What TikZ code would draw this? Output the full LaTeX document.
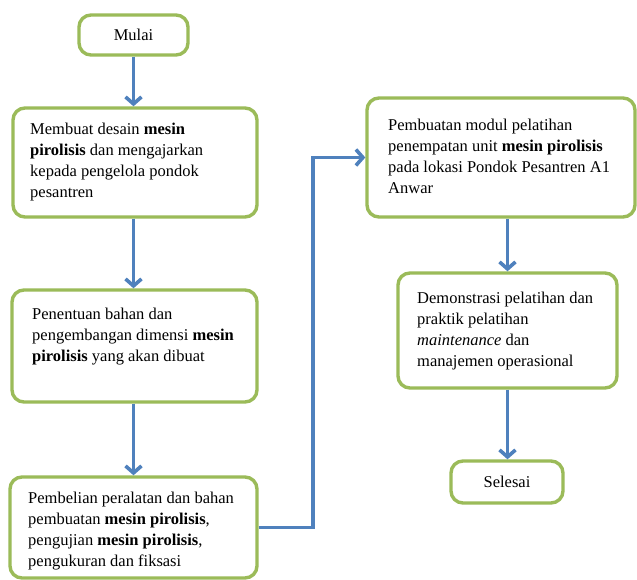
\documentclass[tikz,border=0pt]{standalone}
\usepackage{fontspec}
\setmainfont{Liberation Serif}
\usetikzlibrary{arrows.meta}
\definecolor{boxgreen}{HTML}{9BBB59}
\definecolor{arrblue}{HTML}{4F81BD}
\tikzset{
  box/.style={draw=boxgreen, line width=3.4pt, rounded corners=12pt, fill=white, inner sep=0pt},
  txt/.style={anchor=north west, inner sep=0pt, align=left, font=\fontsize{16.5}{21}\selectfont},
  ctxt/.style={inner sep=0pt, font=\fontsize{16.5}{21}\selectfont},
  arr/.style={draw=arrblue, line width=3.6pt, -{Straight Barb[length=7pt,width=16pt]}},
}
\begin{document}
\begin{tikzpicture}[x=1pt,y=-1pt]
\useasboundingbox (0,0) rectangle (637,580);
\fill[white] (0,0) rectangle (637,580);
% boxes
\node[box, minimum width=109pt, minimum height=40pt] (mulai) at (133.5,35) {};
\node[box, minimum width=244pt, minimum height=109pt] (b1) at (135,162.5) {};
\node[box, minimum width=245pt, minimum height=112pt] (b2) at (134.5,346) {};
\node[box, minimum width=247pt, minimum height=101pt] (b3) at (133.5,527.5) {};
\node[box, minimum width=268pt, minimum height=119pt] (b4) at (501,157.5) {};
\node[box, minimum width=219pt, minimum height=115pt] (b5) at (507.5,330.5) {};
\node[box, minimum width=112pt, minimum height=42pt] (selesai) at (507,482) {};
% texts
\node[ctxt] (tmulai) at (133.5,35) {Mulai};
\node[ctxt] (tselesai) at (507,482) {Selesai};
\node[txt] (t1) at (30,123) {Membuat desain \textbf{mesin}\\\textbf{pirolisis} dan mengajarkan\\kepada pengelola pondok\\pesantren};
\node[txt] (t2) at (32,308) {Penentuan bahan dan\\pengembangan dimensi \textbf{mesin}\\\textbf{pirolisis} yang akan dibuat};
\node[txt] (t3) at (28,492) {Pembelian peralatan dan bahan\\pembuatan \textbf{mesin pirolisis},\\pengujian \textbf{mesin pirolisis},\\pengukuran dan fiksasi};
\node[txt] (t4) at (388,119) {Pembuatan modul pelatihan\\penempatan unit \textbf{mesin pirolisis}\\pada lokasi Pondok Pesantren A1\\Anwar};
\node[txt] (t5) at (417,292) {Demonstrasi pelatihan dan\\praktik pelatihan\\\textit{maintenance} dan\\manajemen operasional};
% connectors
\coordinate (bend) at (313,0);
\draw[arr] (mulai.south) -- (mulai.south |- b1.north);
\draw[arr] (mulai.south |- b1.south) -- (mulai.south |- b2.north);
\draw[arr] (mulai.south |- b2.south) -- (mulai.south |- b3.north);
\draw[arr] (b3.east) -| (bend |- b4.west) -- (b4.west);
\draw[arr] (b5.north |- b4.south) -- (b5.north);
\draw[arr] (b5.south) -- (b5.south |- selesai.north);
\end{tikzpicture}
\end{document}
